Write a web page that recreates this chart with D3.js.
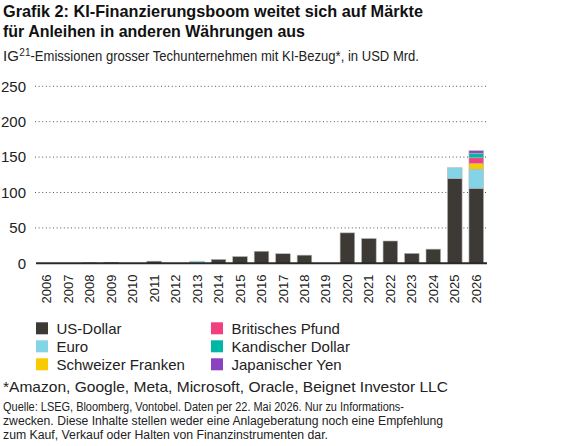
<!DOCTYPE html>
<html><head><meta charset="utf-8">
<script src="https://cdn.jsdelivr.net/npm/d3@7"></script>
<style>
html,body{margin:0;padding:0;background:#fff;}
svg{display:block;font-family:"Liberation Sans",Arial,sans-serif;}
</style></head>
<body>
<svg id="c" width="585" height="446"></svg>
<script>
const years = ["2006","2007","2008","2009","2010","2011","2012","2013","2014","2015","2016","2017","2018","2019","2020","2021","2022","2023","2024","2025","2026"];
const usd = [0,0,1,1.5,0,3,0,0,5.5,9.5,17,13.5,11.5,0,43,35,31.5,14,20,120,106];
const eur = [0,0,0,0,0,0,0,3,0,0,0,0,0,0,0,0,0,0,0,15,27];
const chf = [0,0,0,0,0,0,0,0,0,0,0,0,0,0,0,0,0,0,0,0,8];
const gbp = [0,0,0,0,0,0,0,0,0,0,0,0,0,0,0,0,0,0,0,0,8];
const cad = [0,0,0,0,0,0,0,0,0,0,0,0,0,0,0,0,0,0,0,0,6.5];
const jpy = [0,0,0,0,0,0,0,0,0,0,0,0,0,0,0,0,0,0,0,0,3.5];
const seriesNames = ["US-Dollar","Euro","Schweizer Franken","Britisches Pfund","Kandischer Dollar","Japanischer Yen"];
const seriesColors = ["#3d3a36","#82d4e6","#f8cb00","#f2407e","#00b6a4","#8b42c0"];
const yTicks = [0,50,100,150,200,250];

const svg = d3.select("#c");
const seriesVals = [usd,eur,chf,gbp,cad,jpy];
const keys = seriesNames;
const table = years.map((y,i)=>{const o={year:y}; keys.forEach((k,j)=>o[k]=seriesVals[j][i]); return o;});
const stack = d3.stack().keys(keys)(table);

const x = d3.scaleBand().domain(years).range([36,487]).paddingInner(0.32).paddingOuter(0.16);
const y = d3.scaleLinear().domain([0,250]).range([263.3,86.3]);

// Title
const title = svg.append("g").attr("font-weight","bold").attr("font-size",17).attr("fill","#111");
title.append("text").attr("x",3).attr("y",17).text("Grafik 2: KI-Finanzierungsboom weitet sich auf Märkte")
  .attr("textLength",420).attr("lengthAdjust","spacingAndGlyphs");
title.append("text").attr("x",3).attr("y",37.3).text("für Anleihen in anderen Währungen aus")
  .attr("textLength",302).attr("lengthAdjust","spacingAndGlyphs");

// subtitle in three parts (superscript separate)
const s1 = svg.append("text").attr("x",3).attr("y",60.5).attr("font-size",15).attr("fill","#222").text("IG");
const w1 = s1.node().getComputedTextLength();
const s2 = svg.append("text").attr("x",3+w1+0.5).attr("y",55.5).attr("font-size",10).attr("fill","#222").text("21");
const w2 = s2.node().getComputedTextLength();
const x3 = 3+w1+0.5+w2;
svg.append("text").attr("x",x3).attr("y",60.5).attr("font-size",15).attr("fill","#222")
  .text("-Emissionen grosser Techunternehmen mit KI-Bezug*, in USD Mrd.")
  .attr("textLength",419-x3).attr("lengthAdjust","spacingAndGlyphs");

// grid
const grid = svg.append("g");
yTicks.filter(t=>t>0).forEach(t=>{
  grid.append("line").attr("x1",35).attr("x2",487).attr("y1",y(t)).attr("y2",y(t))
    .attr("stroke","#555").attr("stroke-width",1).attr("stroke-dasharray","1,2.6");
});
const yAxis = d3.axisLeft(y).tickValues(yTicks).tickSize(0).tickPadding(0);
const ya = svg.append("g").attr("transform","translate(26,0)").call(yAxis);
ya.select(".domain").remove();
ya.selectAll("text").attr("font-size",15).attr("fill","#222").attr("font-family","Liberation Sans, Arial, sans-serif");

// bars
svg.append("g").selectAll("g").data(stack).join("g").attr("fill",(d,i)=>seriesColors[i])
  .selectAll("rect").data(d=>d.filter(p=>p[1]-p[0]>0)).join("rect")
  .attr("x",d=>x(d.data.year)).attr("width",x.bandwidth())
  .attr("y",d=>y(d[1])).attr("height",d=>y(d[0])-y(d[1]))
  .attr("stroke","#b5b5b5").attr("stroke-width",0.6);

// baseline
svg.append("line").attr("x1",36).attr("x2",487).attr("y1",y(0)).attr("y2",y(0))
  .attr("stroke","#2a2a2a").attr("stroke-width",2);

// x labels
const xAxis = d3.axisBottom(x).tickSize(0).tickPadding(0);
const xa = svg.append("g").attr("transform","translate(0,274.5)").call(xAxis);
xa.select(".domain").remove();
xa.selectAll("text").attr("font-size",13).attr("fill","#222").attr("font-family","Liberation Sans, Arial, sans-serif")
  .attr("transform","rotate(-90)").attr("text-anchor","end").attr("x",0).attr("y",0).attr("dy","0.35em");

// legend
const leg = svg.append("g");
seriesNames.forEach((n,i)=>{
  const col = Math.floor(i/3), row = i%3;
  const lx = col===0?36:211, ly = 322.3 + row*18;
  leg.append("rect").attr("x",lx).attr("y",ly).attr("width",12).attr("height",12).attr("fill",seriesColors[i]);
  leg.append("text").attr("x",lx+20.5).attr("y",ly+12).attr("font-size",15).attr("fill","#222").text(n);
});

// footnotes
svg.append("text").attr("x",3).attr("y",391.7).attr("font-size",15).attr("fill","#222")
  .text("*Amazon, Google, Meta, Microsoft, Oracle, Beignet Investor LLC")
  .attr("textLength",445).attr("lengthAdjust","spacingAndGlyphs");
const src = ["Quelle: LSEG, Bloomberg, Vontobel. Daten per 22. Mai 2026. Nur zu Informations-",
  "zwecken. Diese Inhalte stellen weder eine Anlageberatung noch eine Empfehlung",
  "zum Kauf, Verkauf oder Halten von Finanzinstrumenten dar."];
const srcW = [401,440,325];
src.forEach((s,i)=>{
  svg.append("text").attr("x",3).attr("y",410.7+i*13.9).attr("font-size",12.5).attr("fill","#222")
    .text(s).attr("textLength",srcW[i]).attr("lengthAdjust","spacingAndGlyphs");
});
</script>
</body></html>
